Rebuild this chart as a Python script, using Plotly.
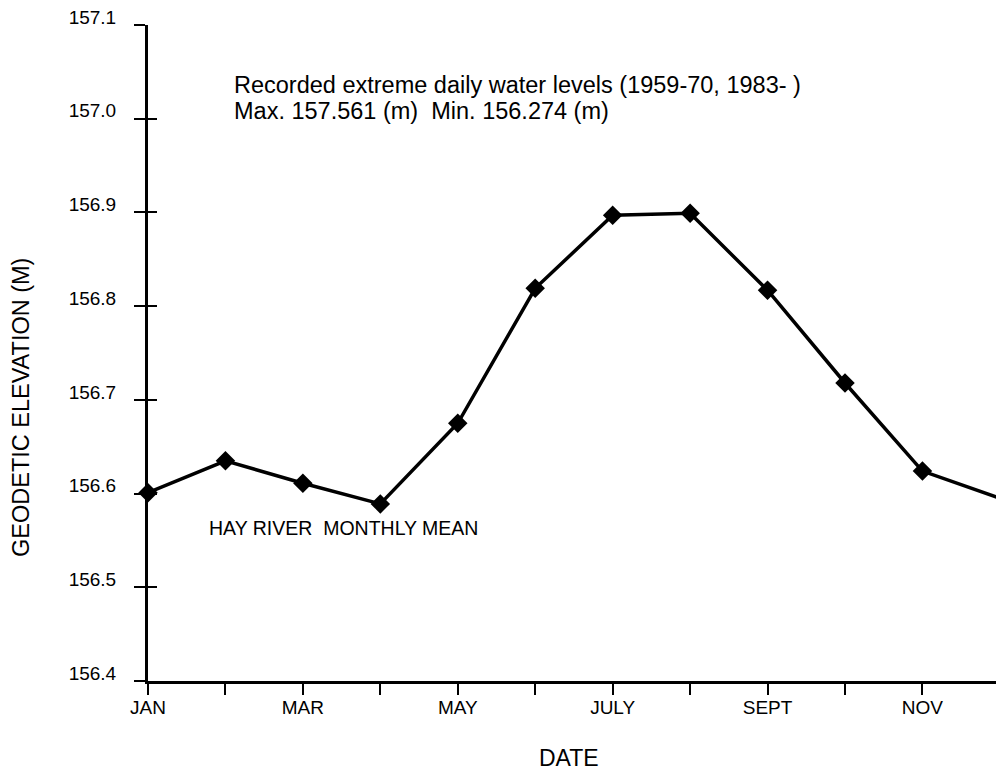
import plotly.graph_objects as go

# Hay River monthly mean water level (geodetic elevation, m)
months = ["JAN", "FEB", "MAR", "APR", "MAY", "JUN",
          "JUL", "AUG", "SEP", "OCT", "NOV", "DEC"]
month_tick_text = ["JAN", "", "MAR", "", "MAY", "", "JULY", "", "SEPT", "", "NOV", ""]
monthly_mean = [156.601, 156.635, 156.611, 156.589, 156.675, 156.819,
                156.897, 156.899, 156.817, 156.718, 156.624, 156.595]
elev_ticks = [156.4, 156.5, 156.6, 156.7, 156.8, 156.9, 157.0, 157.1]

note_line1 = "Recorded extreme daily water levels (1959-70, 1983- )"
note_line2 = "Max. 157.561 (m)\u00a0\u00a0Min. 156.274 (m)"
series_label = "HAY RIVER\u00a0\u00a0MONTHLY MEAN"
x_title = "DATE"
y_title = "GEODETIC ELEVATION (M)"

FONT = "Liberation Sans, Arial, Helvetica, sans-serif"
W, H = 996, 772
L, R, T, B = 148, 0, 25, 91
month_idx = list(range(len(months)))


def px_x(px):
    return (px - L) / (W - L - R)


def px_y(py):
    return (H - B - py) / (H - T - B)


fig = go.Figure()

fig.add_trace(go.Scatter(
    x=month_idx, y=monthly_mean, mode="lines+markers",
    line=dict(color="black", width=3.5),
    marker=dict(symbol="diamond", size=15, color="black"),
    cliponaxis=False, showlegend=False, hoverinfo="skip",
))
# invisible trace carrying the inward half of the elevation ticks
fig.add_trace(go.Scatter(
    x=[month_idx[0]], y=[monthly_mean[0]], yaxis="y2", mode="markers",
    marker=dict(opacity=0), showlegend=False, hoverinfo="skip",
))

fig.update_layout(
    width=W, height=H,
    margin=dict(l=L, r=R, t=T, b=B, autoexpand=False),
    paper_bgcolor="white", plot_bgcolor="white",
    font=dict(family=FONT, color="black"),
    xaxis=dict(
        range=[0, 10.95], tickmode="array", tickvals=month_idx,
        ticktext=month_tick_text, ticks="outside", ticklen=11, tickwidth=2,
        tickcolor="black", showline=True, linewidth=3, linecolor="black",
        showgrid=False, zeroline=False, tickfont=dict(size=19),
        ticklabelstandoff=-4, automargin=False,
    ),
    yaxis=dict(
        range=[elev_ticks[0], elev_ticks[-1]], tickmode="array",
        tickvals=elev_ticks, ticktext=[f"{v:.1f}" for v in elev_ticks],
        ticks="outside", ticklen=11, tickwidth=2, tickcolor="black",
        showline=True, linewidth=3, linecolor="black",
        showgrid=False, zeroline=False, tickfont=dict(size=19),
        ticklabelstandoff=14, ticklabelshift=-8, automargin=False,
    ),
    yaxis2=dict(
        range=[elev_ticks[0], elev_ticks[-1]], overlaying="y", anchor="x",
        side="left", tickmode="array", tickvals=elev_ticks,
        ticks="inside", ticklen=9, tickwidth=2, tickcolor="black",
        showticklabels=False, showline=False, showgrid=False, zeroline=False,
        automargin=False,
    ),
    annotations=[
        dict(text=note_line1, xref="paper", yref="paper", x=px_x(232), y=px_y(85),
             xanchor="left", yanchor="middle", showarrow=False, font=dict(size=23.5)),
        dict(text=note_line2, xref="paper", yref="paper", x=px_x(232), y=px_y(111),
             xanchor="left", yanchor="middle", showarrow=False, font=dict(size=23.5)),
        dict(text=series_label, xref="paper", yref="paper", x=px_x(207), y=px_y(528),
             xanchor="left", yanchor="middle", showarrow=False, font=dict(size=19.5)),
        dict(text=x_title, xref="paper", yref="paper", x=px_x(569), y=px_y(758),
             xanchor="center", yanchor="middle", showarrow=False, font=dict(size=23)),
        dict(text=y_title, xref="paper", yref="paper", x=px_x(21), y=px_y(408),
             xanchor="center", yanchor="middle", showarrow=False, textangle=-90,
             font=dict(size=23.5)),
    ],
)

fig.write_html("out.html")
